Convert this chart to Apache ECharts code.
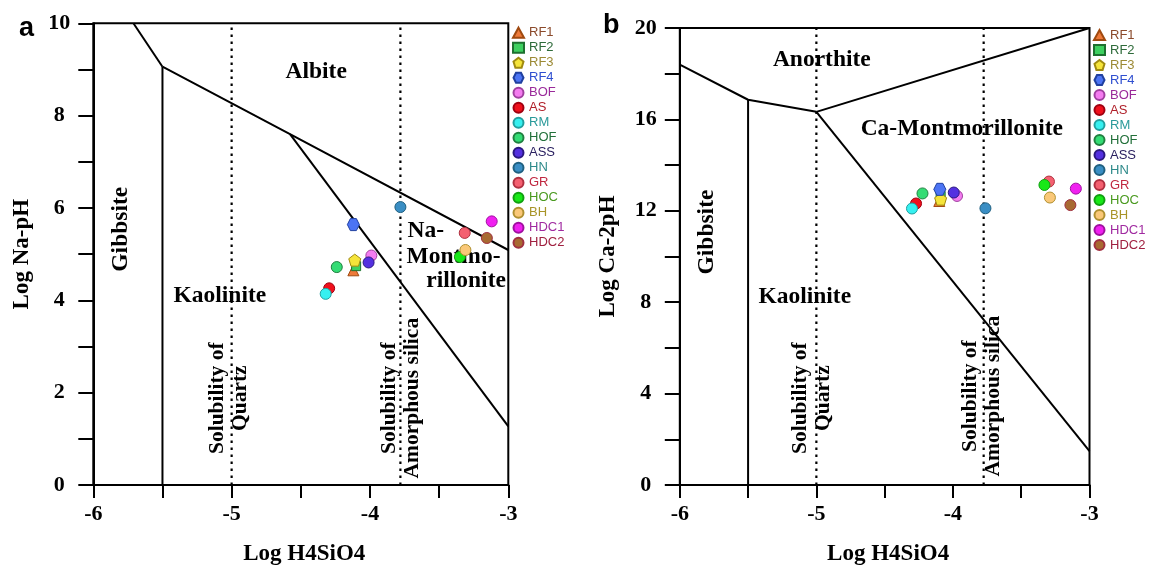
<!DOCTYPE html>
<html><head><meta charset="utf-8">
<script src="https://cdn.jsdelivr.net/npm/echarts@6/dist/echarts.min.js"></script>
<style>html,body{margin:0;padding:0;background:#fff}#c{width:1149px;height:571px}</style>
</head><body><div id="c"></div>
<script>
// ---- data ----
const samples = ['RF1','RF2','RF3','RF4','BOF','AS','RM','HOF','ASS','HN','GR','HOC','BH','HDC1','HDC2'];
// panel a: Log H4SiO4 vs Log Na-pH
const naSi = [-4.12,-4.10,-4.11,-4.12,-3.99,-4.295,-4.32,-4.24,-4.01,-3.78,-3.315,-3.35,-3.31,-3.12,-3.155];
const naPH = [4.65,4.74,4.87,5.64,4.97,4.26,4.14,4.72,4.82,6.02,5.46,4.94,5.09,5.71,5.35];
// panel b: Log H4SiO4 vs Log Ca-2pH
const caSi = [-4.10,-4.09,-4.09,-4.096,-3.97,-4.27,-4.30,-4.223,-3.994,-3.762,-3.297,-3.33,-3.29,-3.10,-3.14];
const caPH = [12.43,12.65,12.51,12.94,12.65,12.32,12.10,12.76,12.80,12.11,13.28,13.13,12.58,12.97,12.25];

// stability field boundaries (panel a)
const aGibbKao = [[-5.5,0],[-5.5,9.06]];
const aGibbAlb = [[-5.71,10],[-5.5,9.06]];
const aAlbLow = [[-5.5,9.06],[-4.578,7.6],[-3,5.09]];
const aKaoNaM = [[-4.578,7.6],[-3,1.27]];
const aQuartz = [[-5,0],[-5,10]];
const aAmorph = [[-3.78,0],[-3.78,10]];
// panel b
const bGibbTop = [[-6,18.4],[-5.5,16.86],[-5,16.33]];
const bGibbKao = [[-5.5,0],[-5.5,16.86]];
const bAnoCa = [[-5,16.33],[-3,20]];
const bKaoCa = [[-5,16.33],[-3,1.48]];
const bQuartz = [[-5,0],[-5,20]];
const bAmorph = [[-3.775,0],[-3.775,20]];

// field labels: [text, x, y, rotate, align]
const aLabels = [
  ['Albite', -4.389, 8.94, 0, 'center'],
  ['Gibbsite', -5.80, 5.54, 90, 'center'],
  ['Kaolinite', -5.085, 4.10, 0, 'center'],
  ['Na-', -3.729, 5.50, 0, 'left'],
  ['Montmo-', -3.736, 4.95, 0, 'left'],
  ['rillonite', -3.593, 4.43, 0, 'left'],
  ['Solubility of\nQuartz', -5.017, 1.88, 90, 'center'],
  ['Solubility of\nAmorphous silica', -3.774, 1.88, 90, 'center']
];
const bLabels = [
  ['Anorthite', -4.96, 18.6, 0, 'center'],
  ['Ca-Montmorillonite', -3.935, 15.58, 0, 'center'],
  ['Gibbsite', -5.80, 11.07, 90, 'center'],
  ['Kaolinite', -5.085, 8.215, 0, 'center'],
  ['Solubility of\nQuartz', -5.033, 3.80, 90, 'center'],
  ['Solubility of\nAmorphous silica', -3.79, 3.89, 90, 'center']
];

// ---- styles ----
const pent = 'path://M50,0 L100,38 L81,100 L19,100 L0,38 Z';
const hexa = 'path://M25,0 L75,0 L100,50 L75,100 L25,100 L0,50 Z';
const symbols = ['triangle','rect',pent,hexa,'circle','circle','circle','circle','circle','circle','circle','circle','circle','circle','circle'];
const symSizes = [11,9,12,12,11,11,11,11,11,11,11,11,11,11,11];
const fills = ['#EE7A3A','#3ED060','#F5E43A','#4C74F4','#F47CF0','#F0101C','#36F0F0','#34DC74','#5430E0','#3A8EC4','#F46070','#18E818','#FAC878','#F020F0','#A86A32'];
const borders = ['#A04A10','#1E7030','#A08A10','#2040A0','#A040A0','#A00010','#20A0A0','#208040','#2A1880','#206080','#B03040','#10A010','#B09030','#A010A0','#A03040'];
const textColors = ['#8B4A2B','#2E6B3A','#9C8A35','#2F4FD0','#9A2A9A','#B0202A','#2A9A9A','#22703A','#2A2060','#2E8A8A','#C02840','#4A9A20','#A89428','#A02AA0','#A02040'];

const SERIF = "'Liberation Serif','Times New Roman',serif";
const SANS = "'Liberation Sans',Arial,sans-serif";

function boundary(data, gi, dotted) {
  return {type:'line', xAxisIndex:gi, yAxisIndex:gi, data:data, symbol:'none', silent:true, z:1,
    lineStyle:{color:'#000', width:dotted?2.2:2, type:dotted?[2.5,4.5]:'solid'}};
}
function labelSeries(list, gi) {
  return {type:'scatter', xAxisIndex:gi, yAxisIndex:gi, symbolSize:0, silent:true, z:3,
    itemStyle:{color:'#000', opacity:1},
    label:{show:true, position:'inside', color:'#000', fontFamily:SERIF, fontWeight:'bold', fontSize:23.5, lineHeight:23},
    data:list.map(l => ({value:[l[1], l[2]], label:{show:true, position:'inside', formatter:l[0], rotate:l[3], align:l[4], verticalAlign:'middle',
      fontFamily:SERIF, fontWeight:'bold', fontSize:(l[0].indexOf('Solubility')===0?21.5:23.5), lineHeight:23, color:'#000', textBorderWidth:0}}))};
}
function xAxis(gi) {
  return {type:'value', gridIndex:gi, min:-6, max:-3, interval:0.5,
    axisLine:{lineStyle:{color:'#000', width:2}}, axisTick:{length:13, lineStyle:{color:'#000', width:2}},
    splitLine:{show:false},
    axisLabel:{formatter:v => Math.abs(v-Math.round(v))<1e-6 ? String(Math.round(v)) : '', color:'#000', fontFamily:SERIF, fontWeight:'bold', fontSize:22, margin:18},
    name:'Log H4SiO4', nameLocation:'middle', nameGap:58,
    nameTextStyle:{color:'#000', fontFamily:SERIF, fontWeight:'bold', fontSize:23, padding:[0,0,0,7]}};
}
function yAxis(gi, max, interval, every, name) {
  return {type:'value', gridIndex:gi, min:0, max:max, interval:interval,
    axisLine:{lineStyle:{color:'#000', width:2}}, axisTick:{length:15, lineStyle:{color:'#000', width:2}},
    splitLine:{show:false},
    axisLabel:{formatter:v => (Math.round(v)%every===0 ? String(Math.round(v)) : ''), color:'#000', fontFamily:SERIF, fontWeight:'bold', fontSize:22, margin:34, align:'center'},
    name:name, nameLocation:'middle', nameGap:60,
    nameTextStyle:{color:'#000', fontFamily:SERIF, fontWeight:'bold', fontSize:23}};
}

const series = [
  boundary(aGibbKao,0), boundary(aGibbAlb,0), boundary(aAlbLow,0), boundary(aKaoNaM,0),
  boundary(aQuartz,0,true), boundary(aAmorph,0,true),
  boundary(bGibbTop,1), boundary(bGibbKao,1), boundary(bAnoCa,1), boundary(bKaoCa,1),
  boundary(bQuartz,1,true), boundary(bAmorph,1,true),
  labelSeries(aLabels,0), labelSeries(bLabels,1)
];
samples.forEach((name,i) => {
  const common = {type:'scatter', name:name, symbol:symbols[i], symbolSize:symSizes[i], z:5,
    itemStyle:{color:fills[i], borderColor:borders[i], borderWidth:1, opacity:1}};
  series.push(Object.assign({}, common, {xAxisIndex:0, yAxisIndex:0, data:[[naSi[i], naPH[i]]]}));
  series.push(Object.assign({}, common, {xAxisIndex:1, yAxisIndex:1, data:[[caSi[i], caPH[i]]]}));
});

const legendData = samples.map((n,i) => ({name:n, textStyle:{color:textColors[i]}}));
function legend(left, top) {
  return {orient:'vertical', left:left, top:top, itemWidth:11, itemHeight:10, itemGap:0, selectedMode:false,
    padding:0, textStyle:{fontFamily:SANS, fontSize:13, lineHeight:15}, data:legendData};
}

const option = {
  animation:false,
  backgroundColor:'#fff',
  grid:[
    {left:93.3, top:23.3, width:415, height:464.2, show:true, borderColor:'#000', borderWidth:2, backgroundColor:'transparent'},
    {left:679.8, top:28, width:409.7, height:459.3, show:true, borderColor:'#000', borderWidth:2, backgroundColor:'transparent'}
  ],
  xAxis:[xAxis(0), xAxis(1)],
  yAxis:[yAxis(0,10,1,2,'Log Na-pH'), yAxis(1,20,2,4,'Log Ca-2pH')],
  legend:[legend(512,25.2), legend(1093,27.5)],
  graphic:[
    {type:'text', left:19, top:15, style:{text:'a', font:"bold 27px 'Liberation Sans',Arial,sans-serif", fill:'#000'}},
    {type:'text', left:603, top:12, style:{text:'b', font:"bold 27px 'Liberation Sans',Arial,sans-serif", fill:'#000'}}
  ],
  series:series
};
const chart = echarts.init(document.getElementById('c'), null, {renderer:'canvas'});
chart.setOption(option);
</script></body></html>
